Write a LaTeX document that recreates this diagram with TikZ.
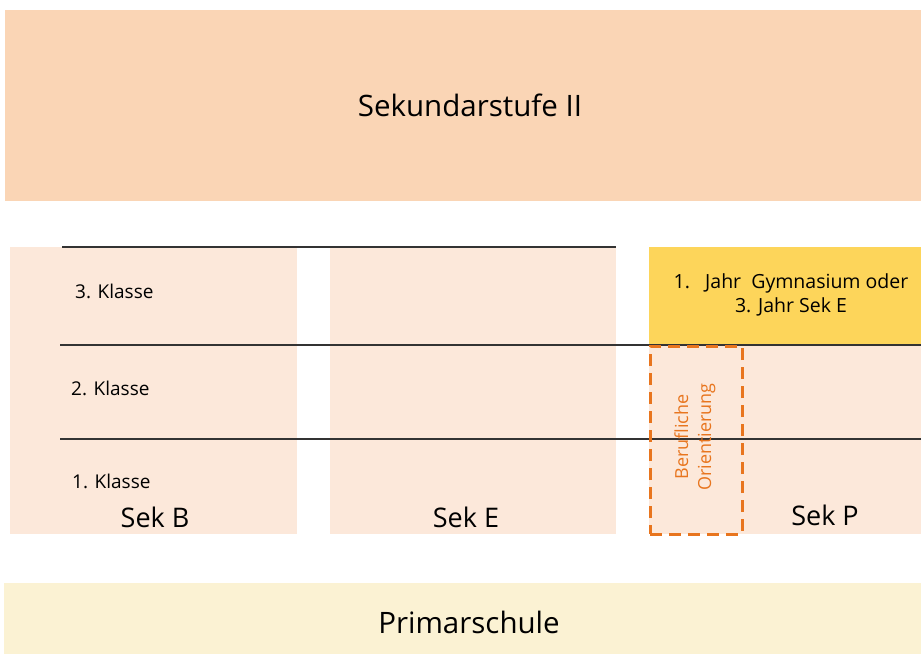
\documentclass[tikz,border=0pt]{standalone}
\usepackage{fontspec}
\setmainfont{Open Sans}
\definecolor{topc}{HTML}{FAD5B5}
\definecolor{boxc}{HTML}{FCE8DA}
\definecolor{yelc}{HTML}{FDD55A}
\definecolor{botc}{HTML}{FBF2D3}
\definecolor{orc}{HTML}{E8751E}
\definecolor{linec}{HTML}{333333}
\tikzset{
  area/.style={anchor=north west, inner sep=0pt, outer sep=0pt, draw=none},
  bigtxt/.style={font=\fontsize{29.5}{34}\selectfont, inner sep=0pt},
  sektxt/.style={font=\fontsize{27}{32}\selectfont, inner sep=0pt},
  klasse/.style={font=\fontsize{19}{23}\selectfont, inner sep=0pt, anchor=west},
  rowline/.style={draw=linec, line width=1.3pt},
  dashbox/.style={draw=orc, line width=3pt, dash pattern=on 12pt off 7pt}
}
\begin{document}
\begin{tikzpicture}[x=1pt,y=-1pt]
\useasboundingbox (0,0) rectangle (921,654);
\fill[white] (0,0) rectangle (921,654);
% bands
\node[area, fill=topc, minimum width=916pt, minimum height=191pt] (sek2) at (5,10) {};
\node[bigtxt] at (470,105) {Sekundarstufe II};
\node[area, fill=botc, minimum width=917pt, minimum height=71pt] (prim) at (4,583) {};
\node[bigtxt] at (469,622) {Primarschule};
% columns
\node[area, fill=boxc, minimum width=287pt, minimum height=287pt] (sekB) at (10,247) {};
\node[area, fill=boxc, minimum width=286pt, minimum height=287pt] (sekE) at (330,247) {};
\node[area, fill=boxc, minimum width=272pt, minimum height=287pt] (sekP) at (649,247) {};
\node[area, fill=yelc, minimum width=272pt, minimum height=98pt] (gym) at (649,247) {};
\node[font=\fontsize{19.5}{24}\selectfont, align=center, inner sep=0pt] (gymtxt) at (791,295)
  {1.\ \ \ Jahr\ \ Gymnasium oder\\3. Jahr Sek E};
% row lines
\coordinate (l1a) at (62,247); \coordinate (l1b) at (616,247);
\coordinate (l2a) at (60,345); \coordinate (l2b) at (921,345);
\coordinate (l3a) at (60,439); \coordinate (l3b) at (921,439);
\draw[rowline] (l1a) -- (l1b);
\draw[rowline] (l2a) -- (l2b);
\draw[rowline] (l3a) -- (l3b);
% labels
\node[klasse] (k3) at (75,291) {3. Klasse};
\node[klasse] (k2) at (71,388) {2. Klasse};
\node[klasse] (k1) at (72,481) {1. Klasse};
\node[sektxt] (tB) at (155,517) {Sek B};
\node[sektxt] (tE) at (466,517) {Sek E};
\node[sektxt] (tP) at (825,515) {Sek P};
% dashed box
\node[area, dashbox, minimum width=92pt, minimum height=188pt] (bo) at (650,346) {};
\node[rotate=90, text=orc, font=\fontsize{18}{23}\selectfont, align=center, inner sep=0pt] (botxt) at (695,437) {Berufliche\\Orientierung};
\end{tikzpicture}
\end{document}
